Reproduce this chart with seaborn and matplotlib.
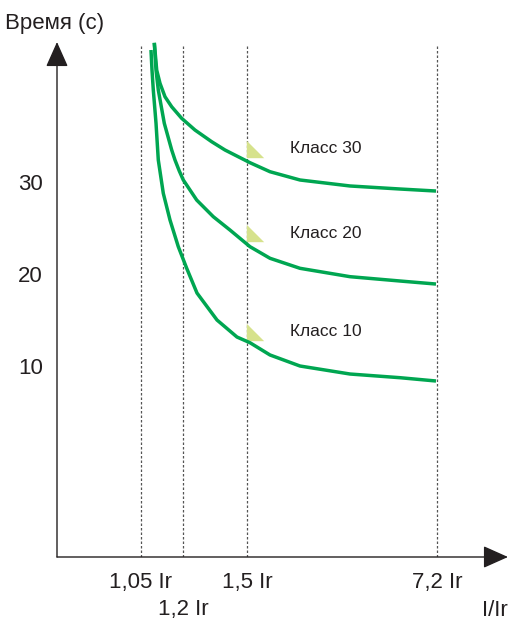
import numpy as np
import pandas as pd
import matplotlib
matplotlib.use("Agg")
import matplotlib.pyplot as plt
import seaborn as sns
from matplotlib.path import Path

sns.set_theme(style="white")
plt.rcParams["font.family"] = ["Liberation Sans", "DejaVu Sans"]

GREEN = "#00a651"
TRI_COLOR = "#d6e28c"
TEXT = "#231f20"

# schematic x position (current ratio axis is not to scale), y in seconds
CLASS30_X = [97.3, 99.7, 103, 108, 114.7, 124.7, 138, 154.7, 168, 193, 213, 243, 293, 343, 379]
CLASS30_Y = [45.14, 42.17, 40.73, 39.27, 38.18, 36.92, 35.65, 34.38, 33.48, 32.10,
             31.12, 30.22, 29.57, 29.24, 29.02]

CLASS20_X = [97.3, 99, 101.3, 107.3, 114.7, 118, 122.3, 126.3, 139.7, 156.3, 173, 193,
             213, 243, 293, 343, 379]
CLASS20_Y = [45.11, 42.17, 40.0, 36.38, 33.48, 32.39, 31.2, 30.22, 28.04, 26.23, 24.78,
             22.97, 21.71, 20.62, 19.71, 19.24, 18.91]

CLASS10_X = [94, 95, 96.3, 99, 101.3, 106.3, 113, 121.3, 129.7, 140, 160, 180, 193, 213,
             243, 293, 343, 379]
CLASS10_Y = [44.35, 42.17, 40.0, 36.41, 32.39, 28.77, 25.87, 22.97, 20.62, 17.93, 15.0,
             13.15, 12.53, 11.2, 10.0, 9.13, 8.73, 8.37]

CLASS_LABELS = ["Класс 30", "Класс 20", "Класс 10"]
MARKER_Y = [33.6, 24.45, 13.7]

X_TICK_POS = [84, 126, 190, 380]
X_TICK_LABELS = ["1,05 Ir", "", "1,5 Ir", "7,2 Ir"]
X_TICK_LOW = "1,2 Ir"
Y_TICKS = [10, 20, 30]

XLIM = (0, 451)
YLIM = (-10.76, 45.22)


def main():
    fig = plt.figure(figsize=(5.10, 6.22), dpi=100)
    ax = fig.add_axes([57 / 510, 1 - 557 / 622, 451 / 510, 515 / 622])
    ax.set_xlim(*XLIM)
    ax.set_ylim(*YLIM)
    for s in ax.spines.values():
        s.set_visible(False)

    # dotted guides
    ax.vlines(X_TICK_POS, YLIM[0], 44.9, colors="#555555", lw=0.9,
              linestyles=(0, (2.0, 1.6)), zorder=1)

    curves = [(CLASS30_X, CLASS30_Y), (CLASS20_X, CLASS20_Y), (CLASS10_X, CLASS10_Y)]
    for xs, ys in curves:
        df = pd.DataFrame({"x": xs, "y": ys})
        sns.lineplot(data=df, x="x", y="y", sort=False, estimator=None,
                     color=GREEN, lw=2.5, ax=ax, zorder=3,
                     solid_joinstyle="round", solid_capstyle="butt")

    tri = Path([(-1, -1), (-1, 1), (1, -1), (-1, -1)],
               [Path.MOVETO, Path.LINETO, Path.LINETO, Path.CLOSEPOLY])
    for lab, my in zip(CLASS_LABELS, MARKER_Y):
        ax.plot([198], [my], marker=tri, ms=12.5, color=TRI_COLOR, mec="none", zorder=2)
        ax.text(233, my, lab, fontsize=12.5, color=TEXT, ha="left", va="center")

    # axes with arrow heads
    arrow = dict(arrowstyle="-|>,head_length=1.3,head_width=0.58", color=TEXT,
                 lw=1.0, shrinkA=0, shrinkB=0)
    ax.annotate("", xy=(0, 1), xytext=(0, 0), xycoords="axes fraction", arrowprops=arrow)
    ax.annotate("", xy=(1, 0), xytext=(0, 0), xycoords="axes fraction", arrowprops=arrow)

    ax.set_xticks(X_TICK_POS)
    ax.set_xticklabels(X_TICK_LABELS, fontsize=16, color=TEXT)
    ax.text(X_TICK_POS[1], -53 / 515, X_TICK_LOW, fontsize=16, color=TEXT,
            ha="center", va="center", transform=ax.get_xaxis_transform())
    ax.set_yticks(Y_TICKS)
    ax.set_yticklabels([str(v) for v in Y_TICKS], fontsize=16, color=TEXT)
    ax.tick_params(axis="x", length=0, pad=11)
    ax.tick_params(axis="y", length=0, pad=10)
    ax.set_xlabel("")
    ax.set_ylabel("")
    ax.grid(False)

    fig.text(55 / 510, 1 - 24 / 622, "Время (с)", fontsize=16, color=TEXT,
             ha="center", va="center")
    fig.text(495 / 510, 1 - 610 / 622, "I/Ir", fontsize=16, color=TEXT,
             ha="center", va="center")

    fig.savefig("out.png", dpi=100, facecolor="white")
    plt.close(fig)


if __name__ == "__main__":
    main()
